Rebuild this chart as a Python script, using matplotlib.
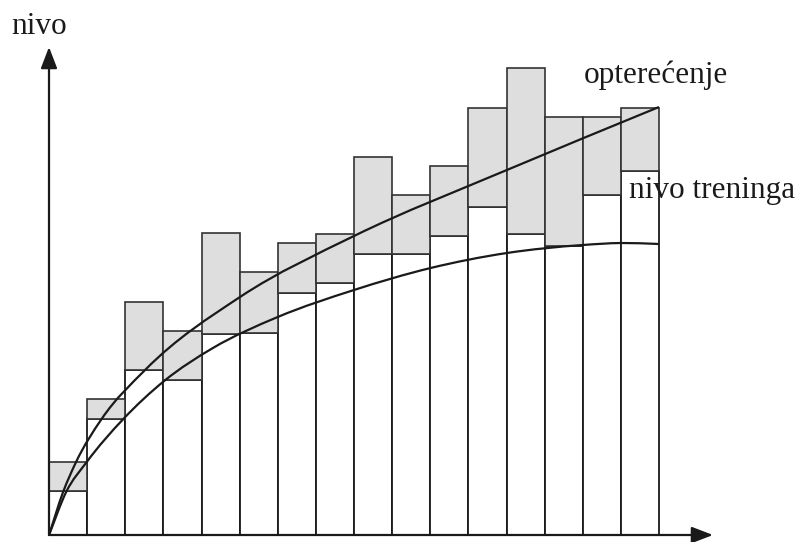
import matplotlib
matplotlib.use("Agg")
import matplotlib.pyplot as plt
import numpy as np
from matplotlib.path import Path
from matplotlib.patches import PathPatch

# Training load diagram: each bar = one period, gray box = load range
# heights are read off the picture (arbitrary level units)
period = np.arange(16)
load_top = [73, 136, 233, 204, 302, 263, 292, 301, 378, 340, 369, 427, 467, 418, 418, 427]
load_bottom = [44, 116, 165, 155, 201, 202, 242, 252, 281, 281, 299, 328, 301, 289, 340, 364]

# "opterećenje" curve
load_x = [0, 0.37, 0.71, 1.38, 2.52, 5.01, 8, 12.01, 16]
load_y = [0, 43, 73, 116, 165, 238, 299, 365, 428]

# "nivo treninga" curve
train_x = [0, 0.45, 0.99, 1.95, 3.02, 4.30, 6, 8, 10.01, 12.01, 14, 15, 16]
train_y = [0, 43, 73, 116, 154, 187, 218, 245, 267, 282, 290, 292, 291]


def smooth_path(xs, ys):
    """Hermite curve through the points (tangents from neighbouring secants)."""
    x = np.asarray(xs, float)
    y = np.asarray(ys, float)
    h = np.diff(x)
    d = np.diff(y) / h
    m = np.empty_like(x)
    m[0], m[-1] = d[0], d[-1]
    m[1:-1] = (d[:-1] * h[1:] + d[1:] * h[:-1]) / (h[:-1] + h[1:])
    verts = [(x[0], y[0])]
    codes = [Path.MOVETO]
    for i in range(len(h)):
        verts += [(x[i] + h[i] / 3, y[i] + m[i] * h[i] / 3),
                  (x[i + 1] - h[i] / 3, y[i + 1] - m[i + 1] * h[i] / 3),
                  (x[i + 1], y[i + 1])]
        codes += [Path.CURVE4] * 3
    return Path(verts, codes)


W, H = 808, 542
x0_px, y0_px = 49, 535
px_per_period = (659 - 49) / 16

fig = plt.figure(figsize=(W / 100, H / 100), dpi=100)
ax = fig.add_axes([0, 0, 1, 1])
ax.set_xlim(-x0_px / px_per_period, (W - x0_px) / px_per_period)
ax.set_ylim(y0_px - H, y0_px)
ax.axis('off')

# white lower part of each bar
ax.bar(period, load_bottom, width=1.0, align='edge', color='white',
       edgecolor='#1a1a1a', linewidth=1.3, zorder=2)
# gray load box
heights = np.array(load_top) - np.array(load_bottom)
ax.bar(period, heights, bottom=load_bottom, width=1.0, align='edge',
       color='#dedede', edgecolor='#333333', linewidth=1.2, zorder=3)

for xs, ys in [(load_x, load_y), (train_x, train_y)]:
    ax.add_patch(PathPatch(smooth_path(xs, ys), facecolor='none',
                           edgecolor='#1a1a1a', linewidth=1.6, zorder=4))

# axes with arrow heads
arrow = dict(arrowstyle='-|>,head_length=1.3,head_width=0.5', color='#1a1a1a',
             linewidth=1.6, shrinkA=0, shrinkB=0)
ax.annotate('', xy=(0, y0_px - 47), xytext=(0, 0), arrowprops=arrow,
            annotation_clip=False, zorder=5)
ax.annotate('', xy=((713 - x0_px) / px_per_period, 0), xytext=(0, 0),
            arrowprops=arrow, annotation_clip=False, zorder=5)

font = dict(family='Liberation Serif', fontsize=22.5, color='#1a1a1a')
ax.text((11 - x0_px) / px_per_period, y0_px - 34, 'nivo', ha='left',
        va='baseline', **font)
ax.text((584 - x0_px) / px_per_period, y0_px - 83, 'opterećenje', ha='left',
        va='baseline', **font)
ax.text((629 - x0_px) / px_per_period, y0_px - 198, 'nivo treninga', ha='left',
        va='baseline', **font)

fig.savefig('out.png', dpi=100)
